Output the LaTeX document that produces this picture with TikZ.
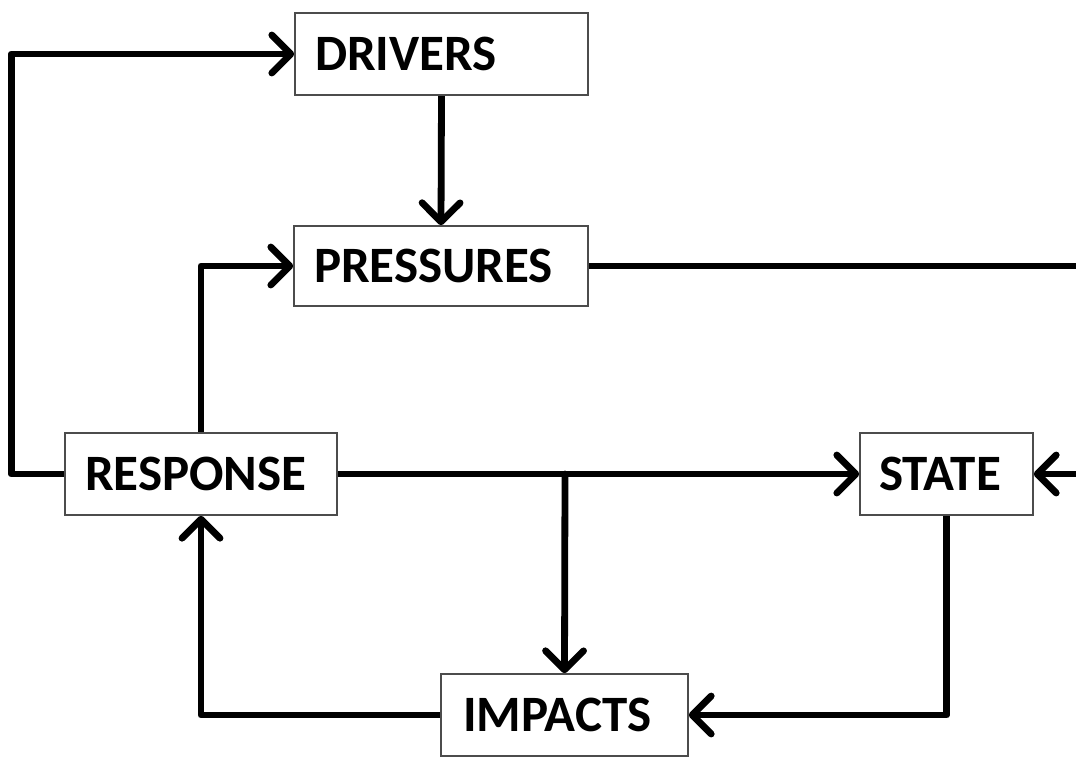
\documentclass[tikz,border=0pt]{standalone}
\usepackage{fontspec}
\setmainfont{Carlito}
\usetikzlibrary{arrows.meta,backgrounds}
\begin{document}
\begin{tikzpicture}[x=1pt,y=-1pt,
  box/.style={draw=black!70, line width=1.6pt, fill=white, minimum height=82pt,
    inner xsep=20pt, inner ysep=0pt, align=left,
    font=\fontsize{51}{55}\selectfont\bfseries},
  link/.style={line width=6.8pt, line cap=round, line join=round},
  arr/.style={link, -{Straight Barb[length=19pt,width=38pt,round]}}]
\useasboundingbox (0,0) rectangle (1076,756);
\clip (0,0) rectangle (1076,756);
\node[box, text width=253pt] (drivers) at (441.5,54) {DRIVERS};
\node[box, text width=254pt, minimum height=80pt] (pressures) at (441,266) {PRESSURES};
\node[box, text width=232pt] (response) at (201,474) {RESPONSE};
\node[box, text width=135pt, inner xsep=19pt] (state) at (946.5,474) {STATE};
\node[box, text width=203pt, inner xsep=22pt] (impacts) at (564.5,715) {IMPACTS};
\coordinate (br) at (565,474);
\coordinate (far) at (1095,266);
\begin{scope}[on background layer]
\draw[arr] (response.west) -- ++(-53,0) |- (drivers.west);
\draw[arr] (drivers.south) -- (pressures.north);
\draw[arr] (response.north) |- (pressures.west);
\draw[arr] (response.east) -- (state.west);
\draw[arr] (br) -- (impacts.north);
\draw[arr] (state.south) |- (impacts.east);
\draw[arr] (impacts.west) -| (response.south);
\draw[arr] (pressures.east) -- (far) |- (state.east);
\end{scope}
\end{tikzpicture}
\end{document}
